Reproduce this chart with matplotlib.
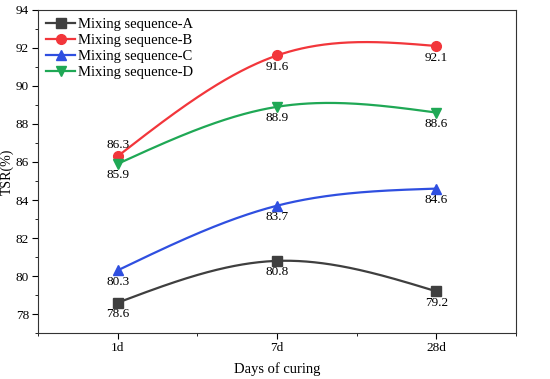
import numpy as np
import matplotlib
matplotlib.use("Agg")
import matplotlib.pyplot as plt
from matplotlib.ticker import MultipleLocator

plt.rcParams['font.family'] = ['Liberation Serif', 'DejaVu Serif']

# data
days = ["1d", "7d", "28d"]
seq_a = [78.6, 80.8, 79.2]
seq_b = [86.3, 91.6, 92.1]
seq_c = [80.3, 83.7, 84.6]
seq_d = [85.9, 88.9, 88.6]
names = ["Mixing sequence-A", "Mixing sequence-B", "Mixing sequence-C", "Mixing sequence-D"]


def natural_spline(x, y, n=200):
    # natural cubic spline through the points
    x = np.asarray(x, float)
    y = np.asarray(y, float)
    k = len(x)
    h = np.diff(x)
    A = np.zeros((k, k))
    r = np.zeros(k)
    A[0, 0] = 1
    A[-1, -1] = 1
    for i in range(1, k - 1):
        A[i, i - 1] = h[i - 1]
        A[i, i] = 2 * (h[i - 1] + h[i])
        A[i, i + 1] = h[i]
        r[i] = 6 * ((y[i + 1] - y[i]) / h[i] - (y[i] - y[i - 1]) / h[i - 1])
    M = np.linalg.solve(A, r)
    xs = np.linspace(x[0], x[-1], n)
    ys = np.empty_like(xs)
    for j, xv in enumerate(xs):
        i = min(np.searchsorted(x, xv, side="right") - 1, k - 2)
        a = x[i + 1] - xv
        b = xv - x[i]
        ys[j] = (M[i] * a**3 + M[i + 1] * b**3) / (6 * h[i]) \
            + (y[i] / h[i] - M[i] * h[i] / 6) * a \
            + (y[i + 1] / h[i] - M[i + 1] * h[i] / 6) * b
    return xs, ys


fig = plt.figure(figsize=(5.5, 3.79), dpi=100)
ax = fig.add_axes([0.069, 0.121, 0.869, 0.853])

xpos = np.arange(len(days))
series = [seq_a, seq_b, seq_c, seq_d]
colors = ["#3f3f3f", "#f2363b", "#2f4fe0", "#1fa855"]
markers = ["s", "o", "^", "v"]

for vals, col, mk, nm in zip(series, colors, markers, names):
    xs, ys = natural_spline(xpos, vals)
    ax.plot(xs, ys, color=col, lw=1.6)
    ax.plot(xpos, vals, linestyle="none", marker=mk, color=col, ms=7)
    ax.plot([], [], color=col, lw=1.6, marker=mk, ms=7, label=nm)

# value labels
for si, vals in enumerate(series):
    for i, v in enumerate(vals):
        if si == 1 and i == 0:
            ax.annotate(f"{v}", (i, v), xytext=(0, 4), textcoords="offset points",
                        ha="center", va="bottom", fontsize=9.5)
        else:
            ax.annotate(f"{v}", (i, v), xytext=(0, -4), textcoords="offset points",
                        ha="center", va="top", fontsize=9.5)

ax.set_xlim(-0.5, 2.5)
ax.set_ylim(77, 94)
ax.set_xticks(xpos)
ax.set_xticklabels(days)
ax.xaxis.set_minor_locator(MultipleLocator(0.5))
ax.yaxis.set_major_locator(MultipleLocator(2))
ax.yaxis.set_minor_locator(MultipleLocator(1))
ax.tick_params(labelsize=9.5, direction="out", length=4, pad=2.5)
ax.tick_params(which="minor", length=2.5)
ax.set_xlabel("Days of curing", fontsize=10.5, labelpad=6)
ax.set_ylabel("TSR(%)", fontsize=10, labelpad=1)
for s in ax.spines.values():
    s.set_color("#333333")

ax.legend(loc="upper left", frameon=False, fontsize=10.5, handlelength=2.0,
          handletextpad=0.2, labelspacing=0.2, borderaxespad=0.2,
          borderpad=0.35)

plt.savefig("out.png", dpi=100)
